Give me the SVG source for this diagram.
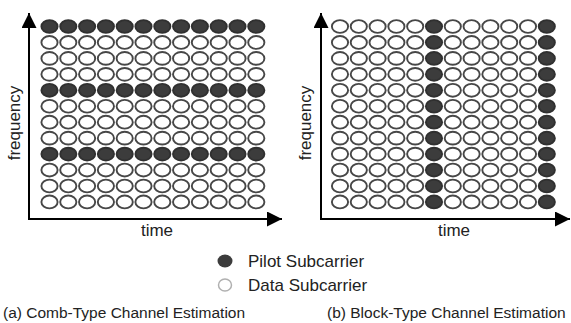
<svg xmlns="http://www.w3.org/2000/svg" xmlns:xlink="http://www.w3.org/1999/xlink" width="571" height="323" viewBox="0 0 571 323">
  <style>
    .data { fill: #ffffff; stroke: #474747; stroke-width: 1.9; }
    .pilot { fill: #3c3c3c; stroke: #303030; stroke-width: 1.9; }
    .axis { stroke: #000000; stroke-width: 2; fill: none; }
    .lbl { font-family: "Liberation Sans", Arial, sans-serif; fill: #222222; }
  </style>
  <defs>
    <marker id="arrow" viewBox="0 0 16 16" refX="16" refY="8" markerUnits="userSpaceOnUse" markerWidth="15" markerHeight="15" orient="auto">
      <path d="M0,0 L16,8 L0,16 z" fill="#000000"/>
    </marker>
    <!-- a row of 12 data subcarriers -->
    <g id="dataRow">
      <ellipse class="data" cx="0" cy="0" rx="8.1" ry="6.4"/>
      <ellipse class="data" cx="18.8" cy="0" rx="8.1" ry="6.4"/>
      <ellipse class="data" cx="37.6" cy="0" rx="8.1" ry="6.4"/>
      <ellipse class="data" cx="56.4" cy="0" rx="8.1" ry="6.4"/>
      <ellipse class="data" cx="75.2" cy="0" rx="8.1" ry="6.4"/>
      <ellipse class="data" cx="94" cy="0" rx="8.1" ry="6.4"/>
      <ellipse class="data" cx="112.8" cy="0" rx="8.1" ry="6.4"/>
      <ellipse class="data" cx="131.6" cy="0" rx="8.1" ry="6.4"/>
      <ellipse class="data" cx="150.4" cy="0" rx="8.1" ry="6.4"/>
      <ellipse class="data" cx="169.2" cy="0" rx="8.1" ry="6.4"/>
      <ellipse class="data" cx="188" cy="0" rx="8.1" ry="6.4"/>
      <ellipse class="data" cx="206.8" cy="0" rx="8.1" ry="6.4"/>
    </g>
    <!-- a row of 12 pilot subcarriers -->
    <g id="pilotRow">
      <ellipse class="pilot" cx="0" cy="0" rx="8.1" ry="6.4"/>
      <ellipse class="pilot" cx="18.8" cy="0" rx="8.1" ry="6.4"/>
      <ellipse class="pilot" cx="37.6" cy="0" rx="8.1" ry="6.4"/>
      <ellipse class="pilot" cx="56.4" cy="0" rx="8.1" ry="6.4"/>
      <ellipse class="pilot" cx="75.2" cy="0" rx="8.1" ry="6.4"/>
      <ellipse class="pilot" cx="94" cy="0" rx="8.1" ry="6.4"/>
      <ellipse class="pilot" cx="112.8" cy="0" rx="8.1" ry="6.4"/>
      <ellipse class="pilot" cx="131.6" cy="0" rx="8.1" ry="6.4"/>
      <ellipse class="pilot" cx="150.4" cy="0" rx="8.1" ry="6.4"/>
      <ellipse class="pilot" cx="169.2" cy="0" rx="8.1" ry="6.4"/>
      <ellipse class="pilot" cx="188" cy="0" rx="8.1" ry="6.4"/>
      <ellipse class="pilot" cx="206.8" cy="0" rx="8.1" ry="6.4"/>
    </g>
    <!-- block-type row: pilots in the 6th and 12th symbols -->
    <g id="blockRow">
      <ellipse class="data" cx="0" cy="0" rx="8.1" ry="6.4"/>
      <ellipse class="data" cx="18.8" cy="0" rx="8.1" ry="6.4"/>
      <ellipse class="data" cx="37.6" cy="0" rx="8.1" ry="6.4"/>
      <ellipse class="data" cx="56.4" cy="0" rx="8.1" ry="6.4"/>
      <ellipse class="data" cx="75.2" cy="0" rx="8.1" ry="6.4"/>
      <ellipse class="pilot" cx="94" cy="0" rx="8.1" ry="6.4"/>
      <ellipse class="data" cx="112.8" cy="0" rx="8.1" ry="6.4"/>
      <ellipse class="data" cx="131.6" cy="0" rx="8.1" ry="6.4"/>
      <ellipse class="data" cx="150.4" cy="0" rx="8.1" ry="6.4"/>
      <ellipse class="data" cx="169.2" cy="0" rx="8.1" ry="6.4"/>
      <ellipse class="data" cx="188" cy="0" rx="8.1" ry="6.4"/>
      <ellipse class="pilot" cx="206.8" cy="0" rx="8.1" ry="6.4"/>
    </g>
  </defs>

  <rect width="571" height="323" fill="#ffffff"/>

  <!-- (a) comb-type grid -->
  <g id="comb-grid">
    <use href="#pilotRow" x="49.5" y="26.5"/>
    <use href="#dataRow" x="49.5" y="42.45"/>
    <use href="#dataRow" x="49.5" y="58.4"/>
    <use href="#dataRow" x="49.5" y="74.35"/>
    <use href="#pilotRow" x="49.5" y="90.3"/>
    <use href="#dataRow" x="49.5" y="106.25"/>
    <use href="#dataRow" x="49.5" y="122.2"/>
    <use href="#dataRow" x="49.5" y="138.15"/>
    <use href="#pilotRow" x="49.5" y="154.1"/>
    <use href="#dataRow" x="49.5" y="170.05"/>
    <use href="#dataRow" x="49.5" y="186"/>
    <use href="#dataRow" x="49.5" y="201.95"/>
  </g>

  <!-- (b) block-type grid -->
  <g id="block-grid">
    <use href="#blockRow" x="340" y="26.5"/>
    <use href="#blockRow" x="340" y="42.45"/>
    <use href="#blockRow" x="340" y="58.4"/>
    <use href="#blockRow" x="340" y="74.35"/>
    <use href="#blockRow" x="340" y="90.3"/>
    <use href="#blockRow" x="340" y="106.25"/>
    <use href="#blockRow" x="340" y="122.2"/>
    <use href="#blockRow" x="340" y="138.15"/>
    <use href="#blockRow" x="340" y="154.1"/>
    <use href="#blockRow" x="340" y="170.05"/>
    <use href="#blockRow" x="340" y="186"/>
    <use href="#blockRow" x="340" y="201.95"/>
  </g>

  <!-- axes -->
  <g id="connectors">
    <line class="axis" x1="29" y1="220" x2="29" y2="13" marker-end="url(#arrow)"/>
    <line class="axis" x1="28" y1="219" x2="282" y2="219" marker-end="url(#arrow)"/>
    <line class="axis" x1="321" y1="220" x2="321" y2="13" marker-end="url(#arrow)"/>
    <line class="axis" x1="320" y1="219" x2="570" y2="219" marker-end="url(#arrow)"/>
  </g>

  <!-- axis labels -->
  <g id="labels-a">
    <text class="lbl" x="157" y="236" font-size="17" text-anchor="middle">time</text>
    <text class="lbl" font-size="17" text-anchor="middle" transform="translate(20,123) rotate(-90)">frequency</text>
  </g>
  <g id="labels-b">
    <text class="lbl" x="454" y="236" font-size="17" text-anchor="middle">time</text>
    <text class="lbl" font-size="17" text-anchor="middle" transform="translate(311,123) rotate(-90)">frequency</text>
  </g>

  <!-- legend -->
  <g id="legend-pilot">
    <ellipse cx="225" cy="261" rx="7.5" ry="6.5" fill="#3c3c3c"/>
    <text class="lbl" x="248" y="267" font-size="17">Pilot Subcarrier</text>
  </g>
  <g id="legend-data">
    <ellipse cx="225" cy="285" rx="6.5" ry="6" fill="#ffffff" stroke="#b0b0b0" stroke-width="1.5"/>
    <text class="lbl" x="248" y="291" font-size="17">Data Subcarrier</text>
  </g>

  <!-- captions -->
  <text id="caption-a" class="lbl" x="3" y="318" font-size="15.5">(a) Comb-Type Channel Estimation</text>
  <text id="caption-b" class="lbl" x="327" y="318" font-size="15.5">(b) Block-Type Channel Estimation</text>
</svg>
